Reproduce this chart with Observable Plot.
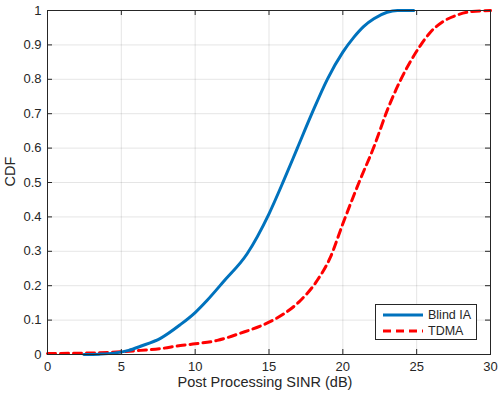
<!DOCTYPE html>
<html><head><meta charset="utf-8">
<script src="https://cdn.jsdelivr.net/npm/d3@7"></script>
<script src="https://cdn.jsdelivr.net/npm/@observablehq/plot@0.6"></script>
<style>
html,body{margin:0;padding:0;background:#fff;}
#wrap{position:relative;width:499px;height:396px;font-family:"Liberation Sans",Arial,Helvetica,sans-serif;}
#legend{position:absolute;left:375px;top:304px;width:102px;height:36px;border:1px solid #262626;background:#fff;box-sizing:border-box;font-size:12.5px;color:#262626;}
#legend .row{position:absolute;left:0;height:16px;display:flex;align-items:center;}
#legend svg{margin-left:7px;margin-right:5px;}
</style>
</head><body>
<div id="wrap"></div>
<script>
const xTicks = [0, 5, 10, 15, 20, 25, 30];
const yTicks = [0, 0.1, 0.2, 0.3, 0.4, 0.5, 0.6, 0.7, 0.8, 0.9, 1];
const yTickLabels = ["0","0.1","0.2","0.3","0.4","0.5","0.6","0.7","0.8","0.9","1"];
const seriesNames = ["Blind IA", "TDMA"];

const blindX = [2.46, 3.5, 4.5, 5.5, 6.3, 7.65, 9.0, 10.0, 10.8, 11.94, 13.52, 15.0, 16.0, 16.92, 17.9, 18.95, 20.0, 20.74, 21.42, 22.1, 23.0, 23.7, 24.8];
const blindY = [0.0, 0.001, 0.004, 0.012, 0.024, 0.047, 0.087, 0.122, 0.157, 0.213, 0.293, 0.409, 0.506, 0.6, 0.7, 0.8, 0.879, 0.922, 0.954, 0.976, 0.995, 1.0, 1.0];

const tdmaX = [0, 2.5, 5, 6.3, 7.65, 9.0, 10, 11.5, 13.07, 15, 16, 17.13, 18.26, 19.16, 20, 20.63, 21.19, 22.1, 23.0, 23.9, 24.69, 25.25, 25.93, 26.72, 27.62, 28.75, 30];
const tdmaY = [0.003, 0.004, 0.008, 0.012, 0.017, 0.026, 0.031, 0.041, 0.062, 0.094, 0.118, 0.157, 0.215, 0.283, 0.38, 0.45, 0.51, 0.603, 0.709, 0.797, 0.86, 0.898, 0.937, 0.966, 0.985, 0.997, 1.0];

const blind = blindX.map((x, i) => ({x, y: blindY[i]}));
const tdma = tdmaX.map((x, i) => ({x, y: tdmaY[i]}));

const W = 499, H = 396, mL = 47, mR = 9, mT = 10, mB = 42;
const innerW = W - mL - mR, innerH = H - mT - mB;
const axisColor = "#262626";

const chart = Plot.plot({
  width: W, height: H,
  marginLeft: mL, marginRight: mR, marginTop: mT, marginBottom: mB,
  style: {fontFamily: '"Liberation Sans", Arial, Helvetica, sans-serif', fontSize: "13px", color: axisColor, background: "#fff"},
  x: {domain: [0, 30], ticks: xTicks},
  y: {domain: [0, 1], ticks: yTicks},
  marks: [
    Plot.gridX(xTicks, {stroke: axisColor, strokeOpacity: 0.12, strokeWidth: 1}),
    Plot.gridY(yTicks, {stroke: axisColor, strokeOpacity: 0.12, strokeWidth: 1}),
    Plot.line(tdma, {x: "x", y: "y", stroke: "#FF0000", strokeWidth: 3, strokeDasharray: "8,5", curve: "monotone-x"}),
    Plot.line(blind, {x: "x", y: "y", stroke: "#0072BD", strokeWidth: 3, curve: "monotone-x"}),
    Plot.frame({stroke: axisColor, strokeWidth: 1}),
    Plot.ruleX(xTicks, {stroke: axisColor, insetTop: innerH - 5}),
    Plot.ruleX(xTicks, {stroke: axisColor, insetBottom: innerH - 5}),
    Plot.ruleY(yTicks, {stroke: axisColor, insetRight: innerW - 5}),
    Plot.ruleY(yTicks, {stroke: axisColor, insetLeft: innerW - 5}),
    Plot.axisX(xTicks, {tickSize: 0, tickPadding: 7, label: null, fill: axisColor, fontSize: 13}),
    Plot.axisY(yTicks, {tickSize: 0, tickPadding: 6, label: null, fill: axisColor, fontSize: 13, tickFormat: (d, i) => yTickLabels[i]}),
    Plot.text(["Post Processing SINR (dB)"], {text: d => d, frameAnchor: "bottom", dy: 32, dx: -4, fontSize: 14.5, fill: axisColor}),
    Plot.text(["CDF"], {text: d => d, frameAnchor: "left", dx: -37, dy: 4, rotate: -90, fontSize: 14.5, fill: axisColor})
  ]
});
const wrap = document.getElementById("wrap");
wrap.appendChild(chart);

const legend = document.createElement("div");
legend.id = "legend";
const styles = [{stroke: "#0072BD", dash: ""}, {stroke: "#FF0000", dash: "8,5"}];
seriesNames.forEach((name, i) => {
  const row = document.createElement("div");
  row.className = "row";
  row.style.top = (2 + i * 16) + "px";
  row.innerHTML = `<svg width="40" height="6"><line x1="0" y1="3" x2="40" y2="3" stroke="${styles[i].stroke}" stroke-width="3" ${styles[i].dash ? `stroke-dasharray="${styles[i].dash}"` : ""}/></svg><span>${name}</span>`;
  legend.appendChild(row);
});
wrap.appendChild(legend);
</script>
</body></html>
